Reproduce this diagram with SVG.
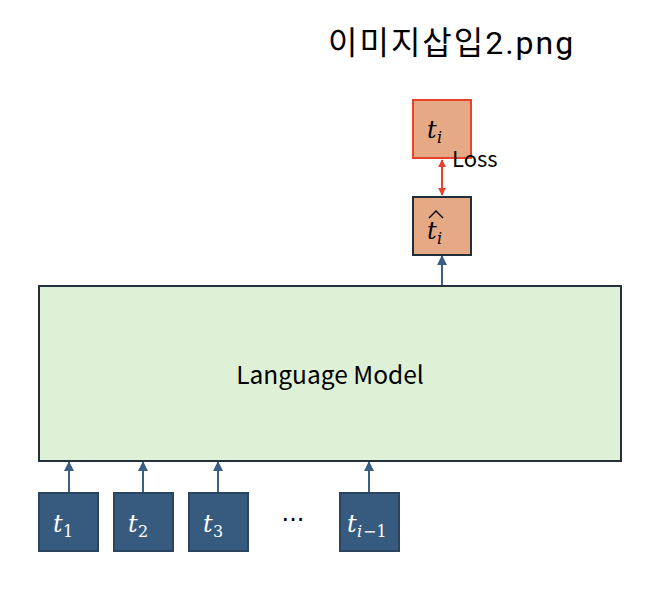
<svg xmlns="http://www.w3.org/2000/svg" width="670" height="590" viewBox="0 0 670 590">
<defs>
<style>
.tok{fill:#375A7F;stroke:#2A4560;stroke-width:2}
.out{fill:#E5A985;stroke:#222E3A;stroke-width:2}
.tgt{fill:#E5A985;stroke:#E8412C;stroke-width:2}
.lm{fill:#DEF0D5;stroke:#24303C;stroke-width:2}
.m{font-family:"DejaVu Serif","Liberation Serif",serif;font-style:italic;font-size:24px}
.sub{font-family:"DejaVu Serif","Liberation Serif",serif;font-size:16px}
.subi{font-family:"DejaVu Serif","Liberation Serif",serif;font-style:italic;font-size:16px}
.lbl{font-family:"Noto Sans CJK KR","Noto Sans",sans-serif;fill:#000}
.blue{stroke:#3A5F85;stroke-width:2;fill:none}
.red{stroke:#E8412C;stroke-width:2;fill:none}
</style>
<marker id="ab" viewBox="0 0 10 10" refX="9" refY="5" markerWidth="5" markerHeight="5" orient="auto"><path d="M0,0 L10,5 L0,10 z" fill="#3A5F85"/></marker>
<marker id="ar" viewBox="0 0 10 10" refX="9" refY="5" markerWidth="4" markerHeight="4" orient="auto"><path d="M0,0 L10,5 L0,10 z" fill="#E8412C"/></marker>
<marker id="ars" viewBox="0 0 10 10" refX="1" refY="5" markerWidth="4" markerHeight="4" orient="auto"><path d="M10,0 L0,5 L10,10 z" fill="#E8412C"/></marker>
</defs>
<text x="328" y="54" font-family="Roboto,Noto Sans CJK KR,sans-serif" font-size="32" letter-spacing="2" fill="#000">이미지삽입2.png</text>
<g id="connectors">
<line class="blue" x1="69" y1="493" x2="69" y2="462" marker-end="url(#ab)"/>
<line class="blue" x1="143" y1="493" x2="143" y2="462" marker-end="url(#ab)"/>
<line class="blue" x1="218" y1="493" x2="218" y2="462" marker-end="url(#ab)"/>
<line class="blue" x1="369" y1="493" x2="369" y2="462" marker-end="url(#ab)"/>
<line class="blue" x1="442" y1="286" x2="442" y2="256" marker-end="url(#ab)"/>
<line class="red" x1="442" y1="160" x2="442" y2="195" marker-start="url(#ars)" marker-end="url(#ar)"/>
</g>
<g id="lm">
<rect class="lm" x="39" y="286" width="582" height="175"/>
<text class="lbl" x="330" y="384" font-size="24.5" text-anchor="middle">Language Model</text>
</g>
<g id="target">
<rect class="tgt" x="413" y="100" width="58" height="58"/>
<text class="m" x="427" y="138">t</text><text class="subi" x="437" y="143">i</text>
</g>
<text id="loss" class="lbl" x="452" y="167" font-size="22">Loss</text>
<g id="pred">
<rect class="out" x="413" y="197" width="58" height="58"/>
<text class="m" x="427" y="239">t</text><text class="subi" x="437" y="244">i</text>
<path d="M429,218 L436,211 L443,218" fill="none" stroke="#000" stroke-width="1.4"/>
</g>
<g id="t1">
<rect class="tok" x="39" y="493" width="59" height="58"/>
<text class="m" x="53" y="532" fill="#fff">t</text><text class="sub" x="63" y="537" fill="#fff">1</text>
</g>
<g id="t2">
<rect class="tok" x="114" y="493" width="59" height="58"/>
<text class="m" x="128" y="532" fill="#fff">t</text><text class="sub" x="138" y="537" fill="#fff">2</text>
</g>
<g id="t3">
<rect class="tok" x="189" y="493" width="59" height="58"/>
<text class="m" x="203" y="532" fill="#fff">t</text><text class="sub" x="213" y="537" fill="#fff">3</text>
</g>
<text id="dots" x="293" y="528" font-family="DejaVu Sans,sans-serif" font-size="24" text-anchor="middle" fill="#000">···</text>
<g id="ti1">
<rect class="tok" x="340" y="493" width="59" height="58"/>
<text class="m" x="347" y="532" fill="#fff">t</text><text class="subi" x="357" y="537" fill="#fff">i</text><text class="sub" x="363" y="537" fill="#fff">−1</text>
</g>
</svg>
